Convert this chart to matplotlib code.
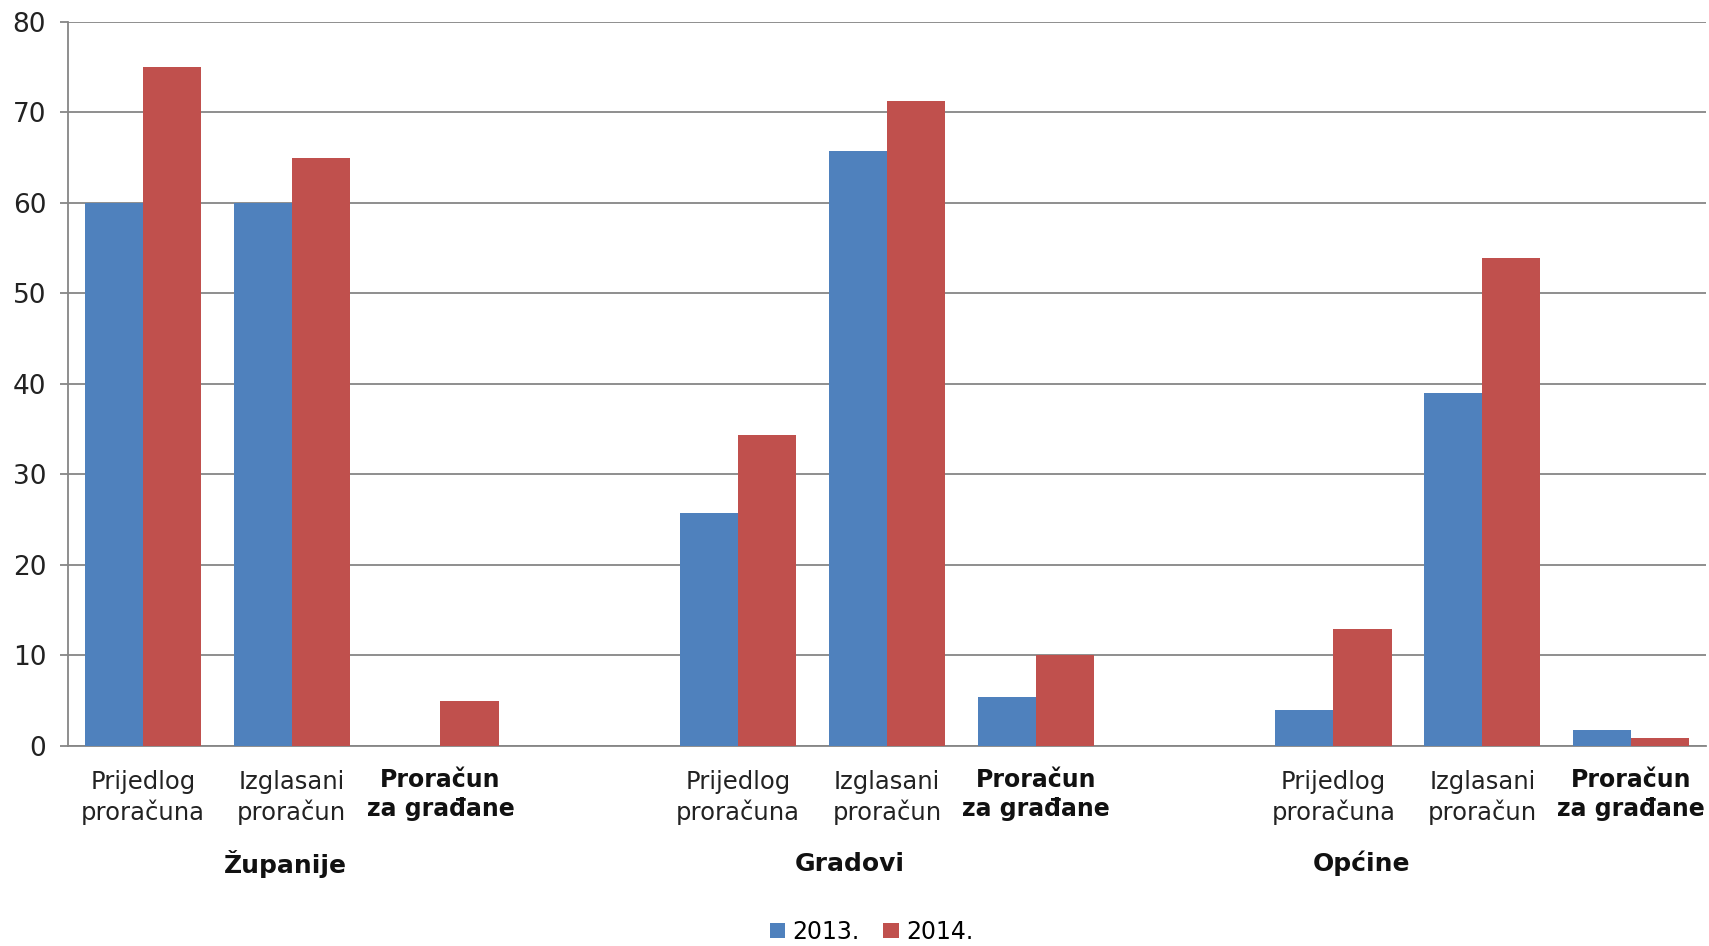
import numpy as np
import matplotlib
matplotlib.use('Agg')
import matplotlib.pyplot as plt
from matplotlib.transforms import blended_transform_factory

groups = ['Županije', 'Gradovi', 'Općine']
subcats = ['Prijedlog\nproračuna', 'Izglasani\nproračun', 'Proračun\nza građane']
series = ['2013.', '2014.']
v2013 = [60, 60, 0, 25.7, 65.7, 5.4, 4.0, 39.0, 1.8]
v2014 = [75, 65, 5, 34.3, 71.2, 10.0, 12.9, 53.9, 0.9]

blue = '#4F81BD'
red = '#C0504D'
grid_col = '#868686'

plt.rcParams['font.family'] = ['DejaVu Sans']

fig = plt.figure(figsize=(17.09, 9.46), dpi=100)
ax = fig.add_axes([0.040, 0.2115, 0.958, 0.7655])

# slots: 3 per group, one empty slot between groups
pos = np.array([g * 4 + k + 0.5 for g in range(len(groups)) for k in range(len(subcats))])
w = 0.39
ax.bar(pos - w / 2, v2013, width=w, color=blue, label=series[0], zorder=3)
ax.bar(pos + w / 2, v2014, width=w, color=red, label=series[1], zorder=3)

ax.set_xlim(0, 11)
ax.set_ylim(0, 80)
ax.set_yticks(np.arange(0, 81, 10))
ax.set_xticks([])
ax.yaxis.grid(True, color=grid_col, linewidth=1.3, zorder=0)
ax.set_axisbelow(True)
for s in ['top', 'right']:
    ax.spines[s].set_visible(False)
for s in ['left', 'bottom']:
    ax.spines[s].set_color(grid_col)
    ax.spines[s].set_linewidth(1.3)
ax.tick_params(axis='y', colors=grid_col, length=6, width=1.3, labelsize=19,
               labelcolor='#222222', pad=10)

trans = blended_transform_factory(ax.transData, fig.transFigure)
for i, p in enumerate(pos):
    k = i % 3
    if k == 2:
        ax.text(p, 0.160, subcats[k], transform=trans, ha='center', va='center',
                fontsize=17, fontweight='bold', linespacing=1.3, color='#111111')
    else:
        ax.text(p, 0.157, subcats[k], transform=trans, ha='center', va='center',
                fontsize=17.5, linespacing=1.3, color='#222222')

# group label positions as placed in the original (not centred on the group)
group_x = [1.46, 5.25, 8.69]
for gx, name in zip(group_x, groups):
    ax.text(gx, 0.087, name, transform=trans, ha='center', va='center',
            fontsize=18, fontweight='bold', color='#111111')

fig.legend(loc='center', bbox_to_anchor=(0.51, 0.015), ncol=2, frameon=False,
           fontsize=17, handlelength=0.65, handleheight=0.65, handletextpad=0.3,
           columnspacing=1.0, borderpad=0)

fig.savefig('out.png', dpi=100)
